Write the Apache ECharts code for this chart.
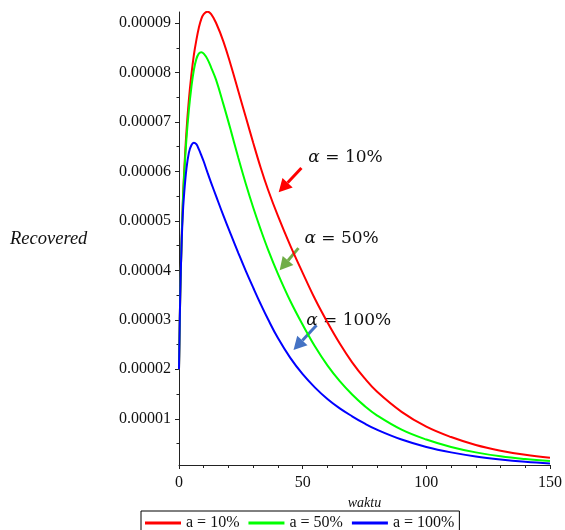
<!DOCTYPE html>
<html>
<head>
<meta charset="utf-8">
<script src="https://cdn.jsdelivr.net/npm/echarts@6/dist/echarts.min.js"></script>
<style>html,body{margin:0;padding:0;background:#fff;}#c{width:565px;height:530px;}</style>
</head>
<body>
<div id="c"></div>
<script>
// time (waktu)
const waktu = [0, 0.5, 1, 1.5, 2, 3, 4, 5, 6, 7, 8, 9, 10, 11.5, 13, 15, 18, 21, 24, 27, 30, 33, 36, 40, 45, 50, 55, 60, 65, 70, 75, 80, 90, 100, 110, 120, 130, 140, 150];
// Recovered values in units of 1e-5
const red_e5 = [2.0, 3.5, 4.5, 5.3, 5.9, 6.8, 7.45, 7.95, 8.35, 8.65, 8.9, 9.08, 9.18, 9.23, 9.18, 9.0, 8.62, 8.14, 7.62, 7.1, 6.58, 6.08, 5.63, 5.1, 4.5, 3.95, 3.42, 2.95, 2.52, 2.14, 1.82, 1.55, 1.14, 0.84, 0.63, 0.47, 0.355, 0.27, 0.21];
const green_e5 = [2.0, 3.5, 4.5, 5.3, 5.85, 6.65, 7.25, 7.7, 8.05, 8.27, 8.38, 8.41, 8.38, 8.27, 8.1, 7.85, 7.35, 6.82, 6.27, 5.75, 5.27, 4.83, 4.42, 3.93, 3.38, 2.9, 2.46, 2.08, 1.76, 1.49, 1.26, 1.07, 0.78, 0.58, 0.43, 0.32, 0.24, 0.185, 0.145];
const blue_e5 = [2.0, 3.5, 4.45, 5.1, 5.5, 6.05, 6.38, 6.53, 6.58, 6.55, 6.45, 6.33, 6.2, 5.98, 5.77, 5.5, 5.1, 4.72, 4.35, 3.99, 3.65, 3.32, 3.01, 2.63, 2.23, 1.9, 1.63, 1.4, 1.21, 1.05, 0.905, 0.78, 0.58, 0.43, 0.32, 0.238, 0.177, 0.13, 0.095];
const seriesNames = ['a = 10%', 'a = 50%', 'a = 100%'];
const yTickLabels = [0.00001, 0.00002, 0.00003, 0.00004, 0.00005, 0.00006, 0.00007, 0.00008, 0.00009];
const yMinorTicks = [0.000005, 0.000015, 0.000025, 0.000035, 0.000045, 0.000055, 0.000065, 0.000075, 0.000085];
// annotations (data coordinates: t, value in 1e-5)
const annotTexts = ['10%', '50%', '100%'];
const annotTextPos = [[52.3, 6.27], [50.7, 4.65], [51.4, 2.99]];
const annotTail = [[49.5, 6.07], [48.3, 4.45], [55.6, 2.89]];
const annotTip = [[40.3, 5.58], [40.7, 4.0], [46.3, 2.39]];
const arrowColors = ['#FF0000', '#70AD47', '#4472C4'];
const lineColors = ['#FF0000', '#00FF00', '#0000FF'];

const SCALE = 1e-5;
const toPairs = arr => waktu.map((t, i) => [t, arr[i] * SCALE]);
const serif = 'Liberation Serif, Times New Roman, serif';

const chart = echarts.init(document.getElementById('c'), null, {renderer: 'canvas'});
const option = {
  animation: false,
  backgroundColor: '#fff',
  grid: {left: 179, right: 11, top: 12, bottom: 65, containLabel: false},
  legend: {
    data: seriesNames,
    left: 141, top: 511,
    icon: 'rect', itemWidth: 36, itemHeight: 3, itemGap: 9,
    padding: [4, 5, 4, 4],
    borderColor: '#000', borderWidth: 1, borderRadius: 0,
    textStyle: {fontFamily: serif, fontSize: 16, color: '#111'}
  },
  xAxis: {
    type: 'value', min: 0, max: 150, interval: 50,
    name: 'waktu', nameLocation: 'middle', nameGap: 29,
    nameTextStyle: {fontFamily: serif, fontStyle: 'italic', fontSize: 14, color: '#111'},
    axisLine: {lineStyle: {color: '#222', width: 1}},
    axisTick: {show: true, length: 4, lineStyle: {color: '#222'}},
    minorTick: {show: true, splitNumber: 5, length: 3, lineStyle: {color: '#222'}},
    axisLabel: {fontFamily: serif, fontSize: 16, color: '#111', margin: 10},
    splitLine: {show: false}, minorSplitLine: {show: false}
  },
  yAxis: [{
    type: 'value', min: 0.065 * SCALE, max: 9.223 * SCALE,
    axisLine: {show: true, lineStyle: {color: '#222', width: 1}},
    axisTick: {show: true, length: 4, customValues: yTickLabels, lineStyle: {color: '#222'}},
    axisLabel: {customValues: yTickLabels, fontFamily: serif, fontSize: 16, color: '#111', margin: 8,
      formatter: v => v.toFixed(5)},
    splitLine: {show: false}
  }, {
    type: 'value', min: 0.065 * SCALE, max: 9.223 * SCALE, position: 'left',
    axisLine: {show: false},
    axisTick: {show: true, length: 2.5, customValues: yMinorTicks, lineStyle: {color: '#222'}},
    axisLabel: {show: false},
    splitLine: {show: false}
  }],
  series: [red_e5, green_e5, blue_e5].map((arr, i) => ({
    name: seriesNames[i], type: 'line', yAxisIndex: 0,
    data: toPairs(arr), showSymbol: false, symbol: 'none', smooth: 0.4,
    lineStyle: {color: lineColors[i], width: 2}, itemStyle: {color: lineColors[i]}
  }))
};
chart.setOption(option);

// annotations anchored in data coordinates
const px = p => chart.convertToPixel({gridIndex: 0}, [p[0], p[1] * SCALE]);
const graphics = [{
  type: 'text', left: 10, top: 230,
  style: {text: 'Recovered', font: 'italic 18.5px ' + serif, fill: '#111'}
}];
annotTexts.forEach((txt, i) => {
  const tp = px(annotTextPos[i]);
  const a = px(annotTail[i]);
  const b = px(annotTip[i]);
  const dx = b[0] - a[0], dy = b[1] - a[1];
  const L = Math.sqrt(dx * dx + dy * dy);
  const ux = dx / L, uy = dy / L;
  const headLen = 13, headW = 7;
  const base = [b[0] - ux * headLen, b[1] - uy * headLen];
  graphics.push({
    type: 'line', shape: {x1: a[0], y1: a[1], x2: base[0], y2: base[1]},
    style: {stroke: arrowColors[i], lineWidth: 3}
  });
  graphics.push({
    type: 'polygon',
    shape: {points: [b, [base[0] - uy * headW, base[1] + ux * headW], [base[0] + uy * headW, base[1] - ux * headW]]},
    style: {fill: arrowColors[i]}
  });
  graphics.push({
    type: 'text', x: tp[0], y: tp[1],
    style: {
      text: '{a|α} = ' + txt,
      rich: {a: {fontStyle: 'italic', fontFamily: 'DejaVu Serif', fontSize: 17, fill: '#111'}},
      fontFamily: 'DejaVu Serif', fontSize: 17, fill: '#111',
      verticalAlign: 'middle', align: 'left'
    }
  });
});
chart.setOption({graphic: graphics});
</script>
</body>
</html>
